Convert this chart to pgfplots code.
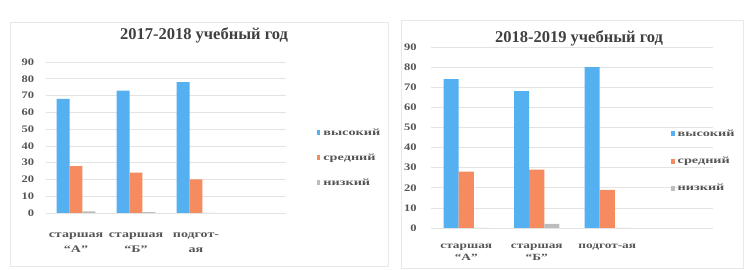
\documentclass[border=0pt]{standalone}
\usepackage{fontspec}
\setmainfont{Liberation Serif}
\usepackage{pgfplots}
\pgfplotsset{compat=1.18}
\definecolor{cblue}{HTML}{55B0F2}
\definecolor{corange}{HTML}{F58B5E}
\definecolor{cgray}{HTML}{BDBDBD}
\definecolor{txt}{HTML}{555555}
\definecolor{ttl}{HTML}{404040}
\pgfplotsset{myax/.style={
  scale only axis,
  xmin=-0.5, xmax=3.5, ymin=0, ymax=90,
  ytick={0,10,...,90}, xtick={0,1,2},
  axis line style={draw=none},
  major tick length=0pt,
  ymajorgrids, grid style={gray!22, line width=0.6pt},
  ybar, bar width=0.215,
  /pgf/number format/assume math mode=true,
  yticklabel style={font=\bfseries\fontsize{10}{12}\selectfont, text=txt, xscale=1.25, xshift=-6pt},
  xticklabel style={align=center, text=txt, xscale=1.4},
  legend style={draw=none, fill=none, font=\bfseries\fontsize{9.5}{10}\selectfont, text=txt,
    legend cell align=left, nodes={xscale=1.5}},
  legend image code/.code={\fill[##1] (0pt,-2.5pt) rectangle (3.6pt,2.5pt);},
}}
\begin{document}
\begin{tikzpicture}
\useasboundingbox (0pt,0pt) rectangle (744pt,270pt);
\draw[gray!18, line width=0.6pt] (10pt,4pt) rectangle (388pt,248pt);
\draw[gray!18, line width=0.6pt] (401pt,2pt) rectangle (743.5pt,250pt);
\node[font=\bfseries\fontsize{16.5}{18}\selectfont, text=ttl] at (204pt,235pt) {2017-2018 учебный год};
\node[font=\bfseries\fontsize{16.5}{18}\selectfont, text=ttl] at (579pt,232pt) {2018-2019 учебный год};
\begin{axis}[myax, at={(46pt,57pt)}, anchor=south west, width=240pt, height=151pt,
  xticklabels={{старшая\\“А”},{старшая\\“Б”},{подгот-\\ая}},
  xticklabel style={font=\bfseries\fontsize{10}{15}\selectfont, yshift=-16pt},
  legend style={at={(1.115,0.365)}, anchor=west, row sep=13pt}]
\addplot[fill=cblue, draw=none, bar shift=-0.215] coordinates {(0,68) (1,73) (2,78)};
\addplot[fill=corange, draw=none, bar shift=0] coordinates {(0,28) (1,24) (2,20)};
\addplot[fill=cgray, draw=none, bar shift=0.215] coordinates {(0,1) (1,0.5) (2,0)};
\legend{высокий, средний, низкий}
\end{axis}
\begin{axis}[myax, at={(431pt,42pt)}, anchor=south west, width=282pt, height=181pt,
  xticklabels={{старшая\\“А”},{старшая\\“Б”},{подгот-ая}},
  xticklabel style={font=\bfseries\fontsize{9.5}{12.5}\selectfont, yshift=-12pt},
  yticklabel style={xshift=-2pt},
  legend style={at={(0.84,0.37)}, anchor=west, row sep=15pt}]
\addplot[fill=cblue, draw=none, bar shift=-0.215] coordinates {(0,74) (1,68) (2,80)};
\addplot[fill=corange, draw=none, bar shift=0] coordinates {(0,28) (1,29) (2,19)};
\addplot[fill=cgray, draw=none, bar shift=0.215] coordinates {(0,0) (1,2) (2,0)};
\legend{высокий, средний, низкий}
\end{axis}
\end{tikzpicture}
\end{document}
